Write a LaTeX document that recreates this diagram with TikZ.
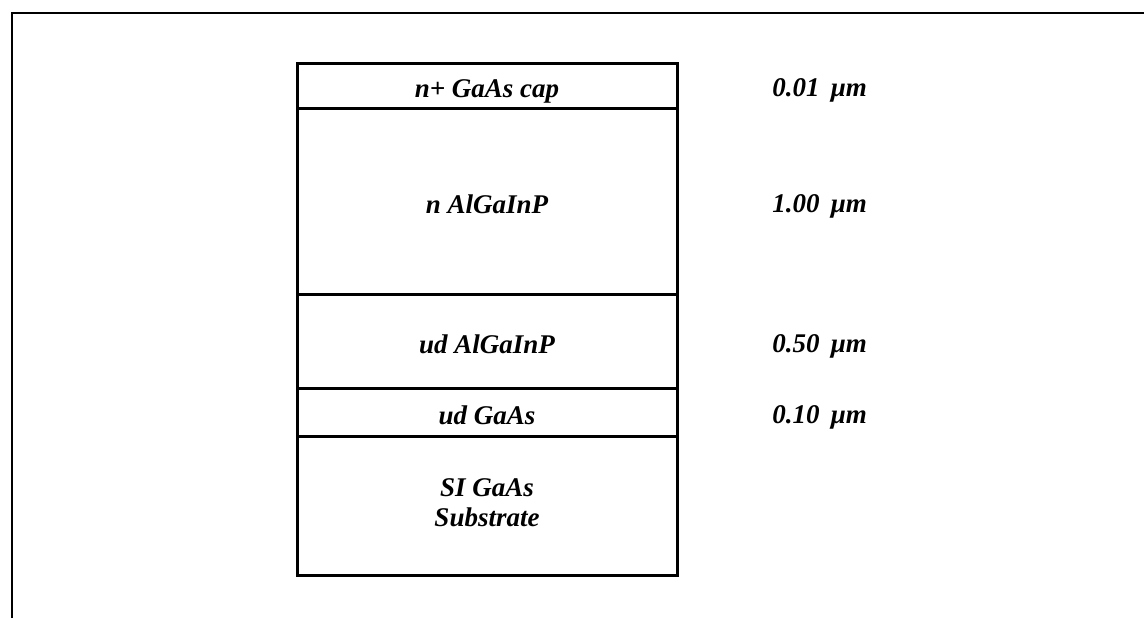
\documentclass[tikz,border=0pt]{standalone}
\usepackage{fontspec}
\setmainfont{Liberation Serif}
\usetikzlibrary{positioning}
\tikzset{
  layer/.style ={draw,line width=1.5pt,minimum width=190pt,outer sep=0pt,inner sep=0pt,
                 align=center,font=\fontsize{13.5pt}{15pt}\selectfont\bfseries\itshape},
  oneline/.style={layer,text height=13pt,text depth=1pt},
  tlab/.style  ={anchor=west,inner sep=0pt,yshift=-2.5pt,
                 font=\fontsize{13.5pt}{15pt}\selectfont\bfseries\itshape},
  frame/.style ={line width=1.2pt},
}

\begin{document}
\begin{tikzpicture}[x=0.5pt,y=-0.5pt]
\useasboundingbox (0,0) rectangle (1144,618);
% frame
\draw[frame] (12,618) -- (12,13) -- (1144,13);
% layer stack, top to bottom
\node[oneline,minimum height=22.5pt] (cap) at (487,85.5) {n+ GaAs cap};
\node[oneline,minimum height=93pt,below=0pt of cap] (nal) {n AlGaInP};
\node[oneline,minimum height=47pt,below=0pt of nal] (udal) {ud AlGaInP};
\node[oneline,minimum height=24pt,below=0pt of udal] (udgaas) {ud GaAs};
\node[layer,minimum height=69.5pt,below=0pt of udgaas] (sub) {\\[-9pt]SI GaAs\\Substrate};
% thicknesses
\node[tlab,right=47.5pt of cap] (tcap) {0.01\, μm};
\node[tlab,right=47.5pt of nal] (tnal) {1.00\, μm};
\node[tlab,right=47.5pt of udal] (tudal) {0.50\, μm};
\node[tlab,right=47.5pt of udgaas] (tudgaas) {0.10\, μm};
\end{tikzpicture}
\end{document}
